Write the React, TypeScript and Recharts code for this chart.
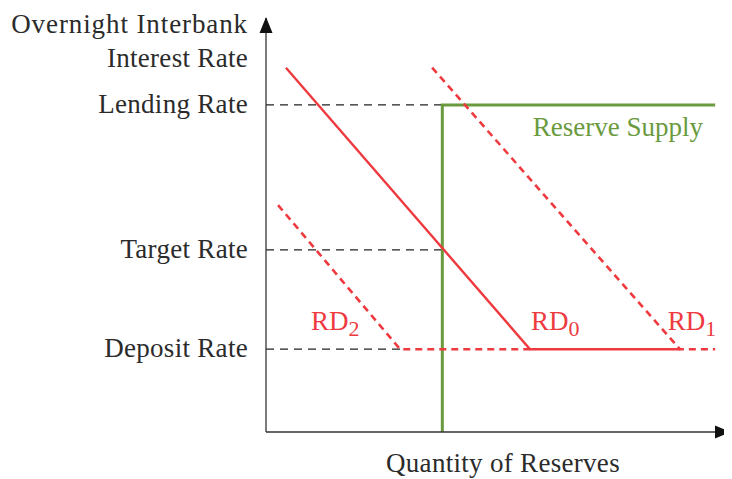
import React from 'react';
import { ComposedChart, Line, XAxis, YAxis, ReferenceDot } from 'recharts';

// rate levels (y) and their labels
const rateTicks = [20, 44, 79];
const rateTickLabels = ['Deposit Rate', 'Target Rate', 'Lending Rate'];

// reserve demand curves: q = quantity of reserves, r = interest rate
const rd0 = [
  { q: 4.3, r: 88 },
  { q: 56.9, r: 20 },
  { q: 89.2, r: 20 },
];
const rd1 = [
  { q: 35.8, r: 88 },
  { q: 89.2, r: 20 },
  { q: 96.8, r: 20 },
];
const rd2 = [
  { q: 2.6, r: 54.8 },
  { q: 28.9, r: 20 },
  { q: 56.9, r: 20 },
];
const reserveSupply = [
  { q: 38, r: 0 },
  { q: 38, r: 79 },
  { q: 96.8, r: 79 },
];

// dashed guides from the rate axis
const guideLending = [
  { q: 0, r: 79 },
  { q: 38, r: 79 },
];
const guideTarget = [
  { q: 0, r: 44 },
  { q: 38, r: 44 },
];
const guideDeposit = [
  { q: 0, r: 20 },
  { q: 28.9, r: 20 },
];

const FONT = '"Liberation Serif", "Times New Roman", serif';
const TEXT = '#2b2b2b';
const RED = '#ee3a3f';
const GREEN = '#6a9a3e';
const GUIDE = '#222';

const RateTick = (props: any) => {
  const { x, y, payload } = props;
  const idx = rateTicks.indexOf(payload.value);
  return (
    <text x={x} y={y + 8} textAnchor="end" fontFamily={FONT} fontSize={27} fill={TEXT} letterSpacing={0.3}>
      {rateTickLabels[idx]}
    </text>
  );
};

const YTitle = (props: any) => {
  const { viewBox } = props;
  const x = viewBox.x + viewBox.width - 18;
  return (
    <g fontFamily={FONT} fontSize={27} fill={TEXT} textAnchor="end">
      <text x={x} y={viewBox.y + 15} letterSpacing={0.9}>Overnight Interbank</text>
      <text x={x} y={viewBox.y + 49} letterSpacing={0.3}>Interest Rate</text>
    </g>
  );
};

const XTitle = (props: any) => {
  const { viewBox } = props;
  return (
    <text
      x={viewBox.x + viewBox.width / 2 + 5}
      y={viewBox.y + 40}
      textAnchor="middle"
      fontFamily={FONT}
      fontSize={27}
      fill={TEXT}
      letterSpacing={0.3}
    >
      Quantity of Reserves
    </text>
  );
};

const curveLabel = (sub: string) => (props: any) => (
  <text x={props.cx} y={props.cy} fontFamily={FONT} fontSize={27} fill={RED}>
    RD
    <tspan dy={6} fontSize={22}>
      {sub}
    </tspan>
  </text>
);

const supplyLabel = (props: any) => (
  <text x={props.cx} y={props.cy} fontFamily={FONT} fontSize={27} fill={GREEN}>
    Reserve Supply
  </text>
);

const arrowRight = (props: any) => (
  <polygon
    points={`${props.cx + 1},${props.cy} ${props.cx - 15},${props.cy - 6.5} ${props.cx - 15},${props.cy + 6.5}`}
    fill="#111"
  />
);

const arrowUp = (props: any) => (
  <polygon
    points={`${props.cx},${props.cy - 1} ${props.cx - 6.5},${props.cy + 15} ${props.cx + 6.5},${props.cy + 15}`}
    fill="#111"
  />
);

const App: React.FC = () => {
  return (
    <ComposedChart width={724} height={471} margin={{ top: 10, right: 2, bottom: 0, left: 0 }}>
      <XAxis
        type="number"
        dataKey="q"
        domain={[0, 100]}
        ticks={[]}
        tick={false}
        tickLine={false}
        axisLine={{ stroke: '#333', strokeWidth: 1.3 }}
        height={47}
        allowDataOverflow
        label={{ content: XTitle }}
      />
      <YAxis
        type="number"
        dataKey="r"
        domain={[0, 100]}
        ticks={rateTicks}
        interval={0}
        tick={<RateTick />}
        tickLine={false}
        tickSize={0}
        tickMargin={18}
        width={258}
        axisLine={{ stroke: '#333', strokeWidth: 1.3 }}
        allowDataOverflow
        label={{ content: YTitle }}
      />

      <Line data={guideLending} dataKey="r" stroke={GUIDE} strokeWidth={1.2} strokeDasharray="8 6" dot={false} isAnimationActive={false} />
      <Line data={guideTarget} dataKey="r" stroke={GUIDE} strokeWidth={1.2} strokeDasharray="8 6" dot={false} isAnimationActive={false} />
      <Line data={guideDeposit} dataKey="r" stroke={GUIDE} strokeWidth={1.2} strokeDasharray="8 6" dot={false} isAnimationActive={false} />

      <Line data={reserveSupply} dataKey="r" stroke={GREEN} strokeWidth={3} dot={false} isAnimationActive={false} />

      <Line data={rd2} dataKey="r" stroke={RED} strokeWidth={2.6} strokeDasharray="7 5" dot={false} isAnimationActive={false} />
      <Line data={rd1} dataKey="r" stroke={RED} strokeWidth={2.6} strokeDasharray="7 5" dot={false} isAnimationActive={false} />
      <Line data={rd0} dataKey="r" stroke={RED} strokeWidth={2.4} dot={false} isAnimationActive={false} />

      <ReferenceDot x={9.7} y={24.6} r={0} shape={curveLabel('2')} />
      <ReferenceDot x={57.1} y={24.6} r={0} shape={curveLabel('0')} />
      <ReferenceDot x={86.6} y={24.6} r={0} shape={curveLabel('1')} />
      <ReferenceDot x={57.5} y={71.5} r={0} shape={supplyLabel} />

      <ReferenceDot x={100} y={0} r={0} shape={arrowRight} />
      <ReferenceDot x={0} y={100} r={0} shape={arrowUp} />
    </ComposedChart>
  );
};

export default App;
